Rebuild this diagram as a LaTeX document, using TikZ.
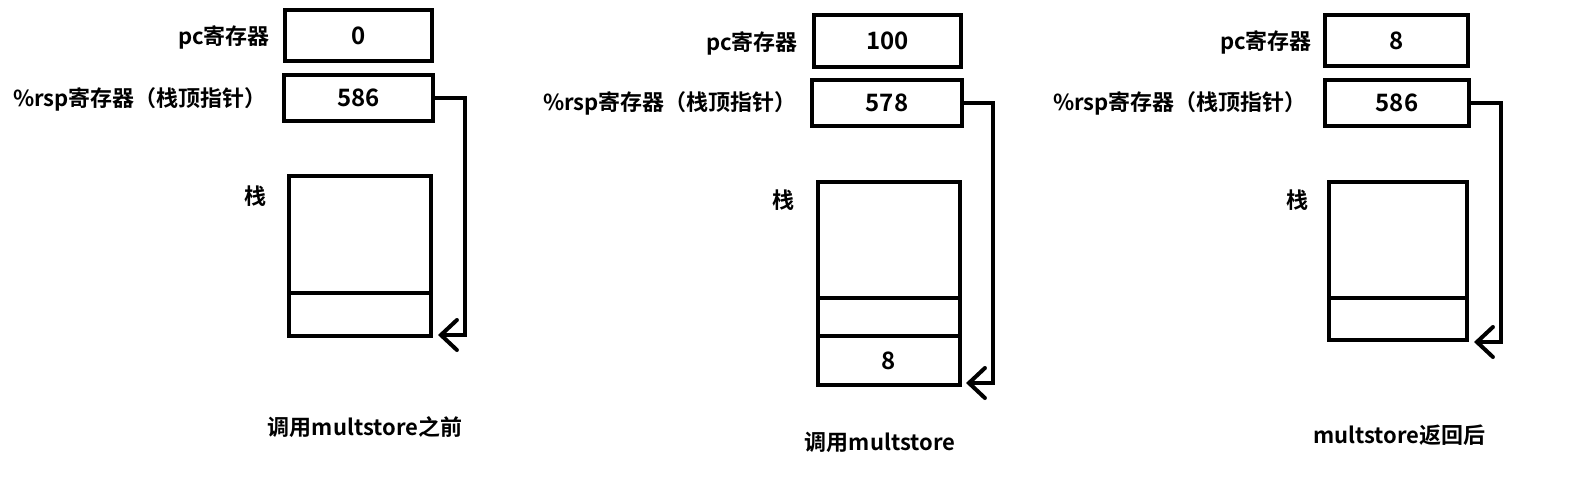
\documentclass[tikz,border=0pt]{standalone}
\usepackage{fontspec}
\setmainfont{Noto Sans CJK SC}[BoldFont={Noto Sans CJK SC Bold}]
\usetikzlibrary{arrows.meta}
\begin{document}
\begin{tikzpicture}[x=1pt,y=-1pt,
  box/.style={draw, line width=4pt, inner sep=0pt, font=\bfseries\fontsize{24}{24}\selectfont},
  lbl/.style={inner sep=0pt, font=\bfseries\fontsize{22}{22}\selectfont},
  arr/.style={line width=4pt, -{Straight Barb[length=16pt, width=30pt, line cap=round]}}]
\fill[white] (0,0) rectangle (1579,485);
\useasboundingbox (0,0) rectangle (1579,485);
% Panel 1
\node[box, minimum width=147pt, minimum height=51pt] (pc1) at (358.5,35.5) {0};
\node[box, minimum width=149pt, minimum height=46pt] (rsp1) at (358.5,98) {586};
\node[box, minimum width=142pt, minimum height=117pt] (s1a) at (360,234.5) {};
\node[box, minimum width=142pt, minimum height=43pt] (s1b) at (360,314.5) {};
\node[lbl, anchor=east] (pcl1) at (270,37) {pc寄存器};
\node[lbl, anchor=east] (rspl1) at (267,99) {\%rsp寄存器（栈顶指针）};
\node[lbl] (st1) at (255,196) {栈};
\node[lbl] (cap1) at (365,427) {调用multstore之前};
\coordinate (t1) at (438,335);
\draw[arr] (rsp1.east) -- ++(30,0) |- (t1);
% Panel 2
\node[box, minimum width=147pt, minimum height=52pt] (pc2) at (887.5,41) {100};
\node[box, minimum width=150pt, minimum height=46pt] (rsp2) at (887,103) {578};
\node[box, minimum width=142pt, minimum height=116pt] (s2a) at (889,240) {};
\node[box, minimum width=142pt, minimum height=38pt] (s2b) at (889,317) {};
\node[box, minimum width=142pt, minimum height=49pt] (s2c) at (889,360.5) {8};
\node[lbl, anchor=east] (pcl2) at (798,43) {pc寄存器};
\node[lbl, anchor=east] (rspl2) at (797,103) {\%rsp寄存器（栈顶指针）};
\node[lbl] (st2) at (783,200) {栈};
\node[lbl] (cap2) at (880,442) {调用multstore};
\coordinate (t2) at (966,383);
\draw[arr] (rsp2.east) -- ++(29,0) |- (t2);
% Panel 3
\node[box, minimum width=143pt, minimum height=51pt] (pc3) at (1396.5,40.5) {8};
\node[box, minimum width=144pt, minimum height=46pt] (rsp3) at (1397,103) {586};
\node[box, minimum width=138pt, minimum height=116pt] (s3a) at (1398,240) {};
\node[box, minimum width=138pt, minimum height=42pt] (s3b) at (1398,319) {};
\node[lbl, anchor=east] (pcl3) at (1312,42) {pc寄存器};
\node[lbl, anchor=east] (rspl3) at (1307,103) {\%rsp寄存器（栈顶指针）};
\node[lbl] (st3) at (1297,200) {栈};
\node[lbl] (cap3) at (1399.5,435) {multstore返回后};
\coordinate (t3) at (1474,342);
\draw[arr] (rsp3.east) -- ++(30,0) |- (t3);
\end{tikzpicture}
\end{document}
